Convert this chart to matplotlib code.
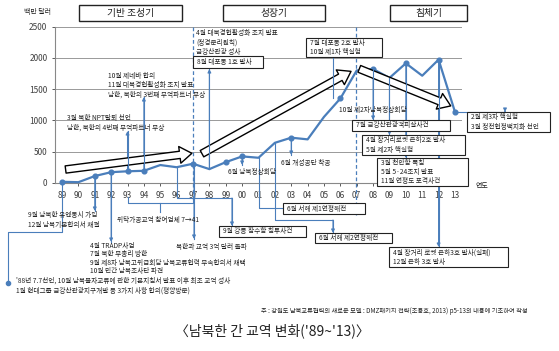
import matplotlib
matplotlib.use("Agg")
import matplotlib.pyplot as plt
import matplotlib.transforms as mtransforms
from matplotlib.patches import FancyArrowPatch, Rectangle
from matplotlib.lines import Line2D

plt.rcParams['font.family'] = ['Noto Sans CJK KR', 'DejaVu Sans']

# ---------------- data ----------------
years = list(range(1989, 2014))
tick_labels = ['89', '90', '91', '92', '93', '94', '95', '96', '97', '98', '99', '00',
               '01', '02', '03', '04', '05', '06', '07', '08', '09', '10', '11', '12', '13']
trade = [19, 13, 111, 173, 187, 195, 287, 252, 308, 222, 333, 425, 403, 642, 724,
         697, 1056, 1350, 1798, 1820, 1679, 1912, 1714, 1971, 1136]
marker_years = [1989, 1991, 1992, 1993, 1994, 1997, 1999, 2000, 2003, 2006,
                2008, 2010, 2012, 2013]
y_ticks = [0, 500, 1000, 1500, 2000, 2500]
phases = ['기반 조성기', '성장기', '침체기']
trend_tails = [(1989.05, 210), (1997.4, 447), (2007.0, 1840)]
trend_heads = [(1997.1, 480), (2006.8, 1805), (2012.9, 1215)]
events_1992 = ['4월 TRADP사업', '7월 북한 부총리 방한',
               '9월 제8차 남북고위급회담 남북교류협력 부속합의서 채택', '10월 민간 남북조사단 파견']

BLUE = '#4a7ebb'
W, H = 559, 351
fig = plt.figure(figsize=(W / 100, H / 100), dpi=100)
P = mtransforms.Affine2D().scale(1 / W, -1 / H).translate(0, 1) + fig.transFigure

ax = fig.add_axes([55 / W, 1 - 183 / H, (462 - 55) / W, (183 - 26.5) / H])
ax.set_xlim(1988.57, 2013.43)
ax.set_ylim(0, 2500)
ax.set_xticks(years)
ax.set_xticklabels(tick_labels)
ax.set_yticks(y_ticks)
ax.tick_params(axis='both', labelsize=6, colors='#404040', length=2.5, width=0.6, pad=3)
for s in ['top', 'right']:
    ax.spines[s].set_visible(False)
for s in ['left', 'bottom']:
    ax.spines[s].set_color('#888888')
    ax.spines[s].set_linewidth(0.8)
ax.yaxis.grid(True, color='#999999', linewidth=0.7)
ax.set_axisbelow(True)

ax.plot(years, trade, color=BLUE, lw=1.6, zorder=3, clip_on=False)
ax.plot(marker_years, [trade[years.index(y)] for y in marker_years], 'o',
        color=BLUE, ms=3.4, zorder=4, clip_on=False)

# hollow trend arrows
for t, h in zip(trend_tails, trend_heads):
    a = FancyArrowPatch(t, h, arrowstyle='simple,head_width=2.2,head_length=1.6,tail_width=0.95',
                        mutation_scale=5.5, facecolor='white', edgecolor='black', lw=1.0,
                        zorder=5, clip_on=False)
    ax.add_patch(a)


def dp(year):
    x, y = ax.transData.transform((year, trade[years.index(year)]))
    return (x, H - y)


def conn(pts, arrow=True, dot=False):
    xs = [p[0] for p in pts]
    ys = [p[1] for p in pts]
    fig.add_artist(Line2D(xs, ys, transform=P, color=BLUE, lw=0.8, zorder=2))
    if arrow:
        ax.annotate('', xy=pts[-1], xytext=pts[-2], xycoords=P, textcoords=P,
                    arrowprops=dict(arrowstyle='-|>', color=BLUE, lw=0.8,
                                    mutation_scale=5, shrinkA=0, shrinkB=0))
    if dot:
        fig.add_artist(Line2D([pts[-1][0]], [pts[-1][1]], transform=P, marker='o',
                              ms=3, color=BLUE))


def txt(x, y, s, size=4.8, ha='left', va='top', **kw):
    fig.text(x / W, 1 - y / H, s, fontsize=size, ha=ha, va=va, color='#222222',
             linespacing=1.25, **kw)


def box(x0, y0, x1, y1, s, size=4.8, ha='left', lw=0.8):
    fig.add_artist(Rectangle((x0 / W, 1 - y1 / H), (x1 - x0) / W, (y1 - y0) / H,
                             transform=fig.transFigure, facecolor='white',
                             edgecolor='#222222', lw=lw, zorder=3))
    if ha == 'left':
        fig.text((x0 + 4) / W, 1 - (y0 + y1) / 2 / H, s, fontsize=size, ha='left',
                 va='center', color='#222222', linespacing=1.25, zorder=4)
    else:
        fig.text((x0 + x1) / 2 / W, 1 - (y0 + y1) / 2 / H, s, fontsize=size,
                 ha='center', va='center', color='#222222', linespacing=1.25, zorder=4)


# phase boxes
box(79, 5, 182, 21, phases[0], size=7, ha='center', lw=1.0)
box(223, 5, 325, 21, phases[1], size=7, ha='center', lw=1.0)
box(390, 5, 467, 21, phases[2], size=7, ha='center', lw=1.0)

# dashed phase separators
fig.add_artist(Line2D([193, 193], [27, 200], transform=P, color=BLUE, lw=0.9, ls=(0, (3, 2))))
fig.add_artist(Line2D([356, 356], [27, 215], transform=P, color=BLUE, lw=0.9, ls=(0, (3, 2))))

# axis labels
txt(24, 12, '백만 달러', size=5, va='center')
txt(476, 186, '연도', size=5, va='center')

# --- annotations above the line ---
x, y = dp(1993)
conn([(x, y), (x, 131)])
txt(67, 114, '3월 북한 NPT탈퇴 선언\n남한, 북한의 4번째 무역파트너 부상')

x, y = dp(1994)
conn([(x, y), (x, 97)])
txt(108, 72, '10월 제네바 합의\n11월 대북경협활성화 조치 발표\n남한, 북한의 3번째 무역파트너 부상')

txt(196, 29, '4월 대북경협활성화 조치 발표\n(정경분리원칙)\n금강산관광 성사')
x, y = dp(1998)
conn([(x, y), (x, 69)])
box(193, 56, 263, 68, '8월 대포동 1호 발사')

x, y = dp(2006)
conn([(333, y), (333, 58)], arrow=False)
box(306, 38, 382, 57, '7월 대포동 2호 발사\n10월 제1차 핵실험')

txt(339, 110, '10월 제2차남북정상회담', va='center')

x, y = dp(2008)
conn([(x, y), (x, 120)])
box(352, 120, 450, 131, '7월 금강산관광객피살사건')

x, y = dp(2009)
conn([(x, y), (x, 135)])
box(362, 135, 465, 155, '4월 장거리로켓 은하2호 발사\n5월 제2차 핵실험')

x, y = dp(2010)
conn([(x, y), (x, 158)])
box(377, 158, 468, 186, '3월 천안함 폭침\n5월 5·24조치 발표\n11월 연평도 포격사건')

x, y = dp(2013)
conn([(x, y), (505, y), (505, 112)])
box(467, 112, 550, 132, '2월 제3차 핵실험\n3월 정전협정백지화 선언')

x, y = dp(2012)
conn([(x, y), (x, 247)])
box(389, 247, 508, 267, '4월 장거리 로켓 은하3호 발사(실패)\n12월 은하 3호 발사')

x, y = dp(2003)
conn([(x, y), (x, 155)])
txt(281, 163, '6월 개성공단 착공', va='center')

x, y = dp(2000)
conn([(x, y), (x, 165)])
txt(228, 172, '6월 남북정상회담', va='center')

x, y = dp(2001)
conn([(x, y), (x, 208), (283, 208)], arrow=False)
box(283, 203, 365, 214, '6월 서해 제1연평해전')

x, y = dp(2002)
conn([(x, y), (x, 220), (333, 220), (333, 233)])
box(315, 233, 392, 243, '6월 서해 제2연평해전')

# --- annotations below the axis ---
x, y = dp(1989)
conn([(x, y), (x, 232), (8, 232), (8, 283)], arrow=False, dot=True)
txt(16, 277, "'88년 7.7선언, 10월 남북물자교류에 관한 기본지침서 발표 이후 최초 교역 성사\n"
             "1월 현대그룹 금강산관광지구개발 등 3가지 사항 합의(평양방문)")

x, y = dp(1991)
conn([(x, y), (x, 211)])
txt(28, 211, '9월 남북한 유엔동시 가입\n12월 남북기본합의서 채결')

x, y = dp(1992)
conn([(x, y), (x, 242)])
for i, line in enumerate(events_1992):
    txt(90, 242 + 8.3 * i, line)

# bracket 93-97
x93 = dp(1993)[0]
x97 = dp(1997)[0]
conn([(x93, 197), (x93, 203), (x97, 203), (x97, 197)], arrow=False)
xm = (x93 + x97) / 2
conn([(xm, 203), (xm, 212)], arrow=False)
txt(117, 220, '위탁가공교역 참여업체 7→41', va='center')

x, y = dp(1997)
conn([(x + 1, y), (x + 1, 239)])
txt(176, 246.5, '북한과 교역 3억 달러 돌파', va='center')

x, y = dp(1996)
conn([(x, y), (x, 198), (232, 198), (232, 226)])
box(219, 226, 306, 237, '9월 강릉 잠수함 침투사건')

# footnote & title
txt(528, 311, '주 : 강원도 남북교류협력의 새로운 모델 : DMZ패키지 전략(조용호, 2013) p5-13의 내용에 기초하여 작성',
    size=4.5, ha='right', va='center')
txt(272, 331, "〈남북한 간 교역 변화('89~'13)〉", size=10, ha='center', va='center')

fig.savefig('out.png', dpi=100)
